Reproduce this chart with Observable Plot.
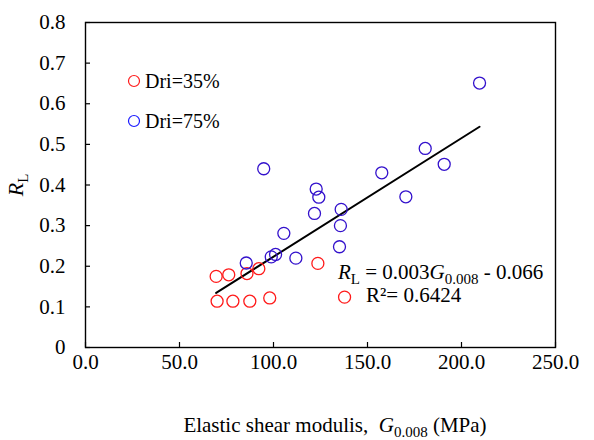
<!DOCTYPE html>
<html><head><meta charset="utf-8">
<script src="https://cdn.jsdelivr.net/npm/d3@7"></script>
<script src="https://cdn.jsdelivr.net/npm/@observablehq/plot@0.6"></script>
</head><body style="margin:0;background:#fff"><div id="chart"></div>
<script>
// Data
const seriesNames = ["Dri=35%", "Dri=75%"];
const seriesColors = ["#ff1a1a", "#3311cc"];
const legendColors = ["#ff1a1a", "#1a1aff"];
const g35 = [69.5, 76.2, 85.9, 92.2, 70.0, 78.4, 87.4, 98.0, 123.6, 137.8];
const rl35 = [0.175, 0.179, 0.182, 0.194, 0.114, 0.114, 0.114, 0.122, 0.207, 0.124];
const g75 = [94.8, 85.5, 98.8, 101.1, 105.5, 111.9, 122.7, 124.1, 121.8, 136.0, 135.6, 135.1, 209.6, 180.7, 190.8, 157.6, 170.4];
const rl75 = [0.44, 0.208, 0.223, 0.229, 0.281, 0.22, 0.39, 0.37, 0.33, 0.34, 0.30, 0.248, 0.651, 0.49, 0.451, 0.43, 0.371];
const xTicks = [0, 50, 100, 150, 200, 250];
const yTicks = [0, 0.1, 0.2, 0.3, 0.4, 0.5, 0.6, 0.7, 0.8];

const rows = [
  ...g35.map((g, i) => ({g, rl: rl35[i], series: seriesNames[0]})),
  ...g75.map((g, i) => ({g, rl: rl75[i], series: seriesNames[1]}))
];

const fmtX = d => d.toFixed(1);
const fmtY = d => d === 0 ? "0" : d.toFixed(1);

const svg = Plot.plot({
  width: 594, height: 440,
  marginLeft: 85, marginRight: 39, marginTop: 22, marginBottom: 93,
  x: {domain: [0, 250]},
  y: {domain: [0, 0.8]},
  color: {domain: seriesNames, range: seriesColors},
  marks: [
    Plot.axisX({ticks: xTicks, tickFormat: fmtX, tickSize: -5, tickPadding: 12, label: null, strokeWidth: 1.2, fontSize: 21}),
    Plot.axisY({ticks: yTicks, tickFormat: fmtY, tickSize: -5, tickPadding: 25, label: null, strokeWidth: 1.2, fontSize: 21}),
    Plot.frame({stroke: "black", strokeWidth: 1.4}),
    Plot.linearRegressionY(rows, {x: "g", y: "rl", stroke: "black", strokeWidth: 2, ci: 0}),
    Plot.dot(rows, {x: "g", y: "rl", r: 6, stroke: "series", strokeWidth: 1.3})
  ]
});

const s = d3.select(svg);

function serif(sel) {
  return sel.attr("font-family", "Liberation Serif").style("font-family", "'Liberation Serif', serif");
}
serif(s.selectAll("text"));

function txt(parent) {
  return serif(parent.append("text")).attr("text-anchor", "start").attr("fill", "black");
}

// Legend
seriesNames.forEach((name, i) => {
  const cy = 81 + i * 40;
  s.append("circle").attr("cx", 134).attr("cy", cy).attr("r", 5.5)
    .attr("fill", "none").attr("stroke", legendColors[i]).attr("stroke-width", 1.2);
  txt(s).attr("font-size", 20).attr("x", 145).attr("y", cy + 7).text(name);
});

// Y axis label R_L
const yl = txt(s).attr("font-size", 22).attr("text-anchor", "middle")
  .attr("transform", "translate(23,185) rotate(-90)");
yl.append("tspan").attr("font-style", "italic").text("R");
yl.append("tspan").attr("font-size", 15).attr("dy", 5).text("L");

// X axis label
const xl = txt(s).attr("font-size", 21).attr("text-anchor", "middle").attr("x", 335).attr("y", 432);
xl.append("tspan").text("Elastic shear modulis,  ");
xl.append("tspan").attr("font-style", "italic").text("G");
xl.append("tspan").attr("font-size", 15).attr("dy", 5).text("0.008");
xl.append("tspan").attr("dy", -5).text(" (MPa)");

// Regression equation
const eq = txt(s).attr("font-size", 21).attr("x", 338).attr("y", 279);
eq.append("tspan").attr("font-style", "italic").text("R");
eq.append("tspan").attr("font-size", 15).attr("dy", 5).text("L");
eq.append("tspan").attr("dy", -5).text(" = 0.003");
eq.append("tspan").attr("font-style", "italic").text("G");
eq.append("tspan").attr("font-size", 15).attr("dy", 5).text("0.008");
eq.append("tspan").attr("dy", -5).text(" - 0.066");
txt(s).attr("font-size", 21).attr("x", 366).attr("y", 302).text("R\u00B2= 0.6424");

document.getElementById("chart").appendChild(svg);
</script>
</body></html>
